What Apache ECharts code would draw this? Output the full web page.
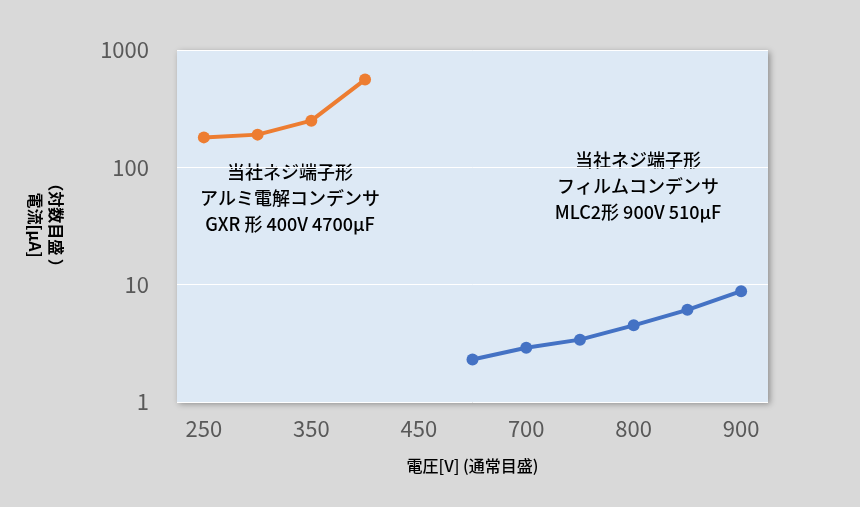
<!DOCTYPE html><html><head><meta charset="utf-8">
<script src="https://cdn.jsdelivr.net/npm/echarts@6/dist/echarts.min.js"></script>
<style>html,body{margin:0;background:#d9d9d9}#c{width:860px;height:507px}</style></head><body><div id="c"></div>
<script>
const categories=['250','300','350','400','450','650','700','750','800','850','900'];
const shownLabels=['250','350','450','700','800','900'];
const gxr=[180,190,250,560,null,null,null,null,null,null,null];
const mlc2=[null,null,null,null,null,2.3,2.9,3.4,4.5,6.1,8.8];
const c=echarts.init(document.getElementById('c'));
const F='"Noto Sans CJK JP", sans-serif';
c.setOption({
 backgroundColor:'#d9d9d9',
 grid:{left:177,right:92,top:50,bottom:105,show:true,backgroundColor:'#dde9f5',borderWidth:0,shadowColor:'rgba(0,0,0,0.35)',shadowBlur:6,shadowOffsetX:2,shadowOffsetY:2},
 xAxis:{type:'category',data:categories,boundaryGap:true,axisLine:{show:false},axisTick:{show:false},
  axisLabel:{interval:0,formatter:v=>shownLabels.includes(v)?v:'',fontSize:22,color:'#595959',fontFamily:F,margin:16},
  name:'電圧[V] (通常目盛)',nameLocation:'middle',nameGap:56,nameTextStyle:{fontSize:16,fontWeight:500,color:'#000',fontFamily:F}},
 yAxis:{type:'log',min:1,max:1000,logBase:10,axisLine:{show:false},axisTick:{show:false},
  splitLine:{lineStyle:{color:'#fff',width:1}},
  axisLabel:{fontSize:22,color:'#595959',fontFamily:F,margin:28,formatter:v=>String(v)}},
 graphic:[{type:'text',x:46,y:225,rotation:-Math.PI/2,style:{text:'（対数目盛 ）\n電流[μA]',font:'bold 16px '+F,fill:'#000',align:'center',verticalAlign:'middle',lineHeight:21}},
  {type:'text',x:290,y:198,style:{text:'当社ネジ端子形\nアルミ電解コンデンサ\nGXR 形 400V 4700μF',font:'500 18px '+F,fill:'#000',align:'center',verticalAlign:'middle',lineHeight:26}},
  {type:'text',x:638,y:186,style:{text:'当社ネジ端子形\nフィルムコンデンサ\nMLC2形 900V 510μF',font:'500 18px '+F,fill:'#000',align:'center',verticalAlign:'middle',lineHeight:26}}],
 series:[
  {type:'line',data:gxr,color:'#ed7d31',lineStyle:{width:4},symbol:'circle',symbolSize:12,connectNulls:false},
  {type:'line',data:mlc2,color:'#4472c4',lineStyle:{width:4},symbol:'circle',symbolSize:12,connectNulls:false}]
});
</script></body></html>
